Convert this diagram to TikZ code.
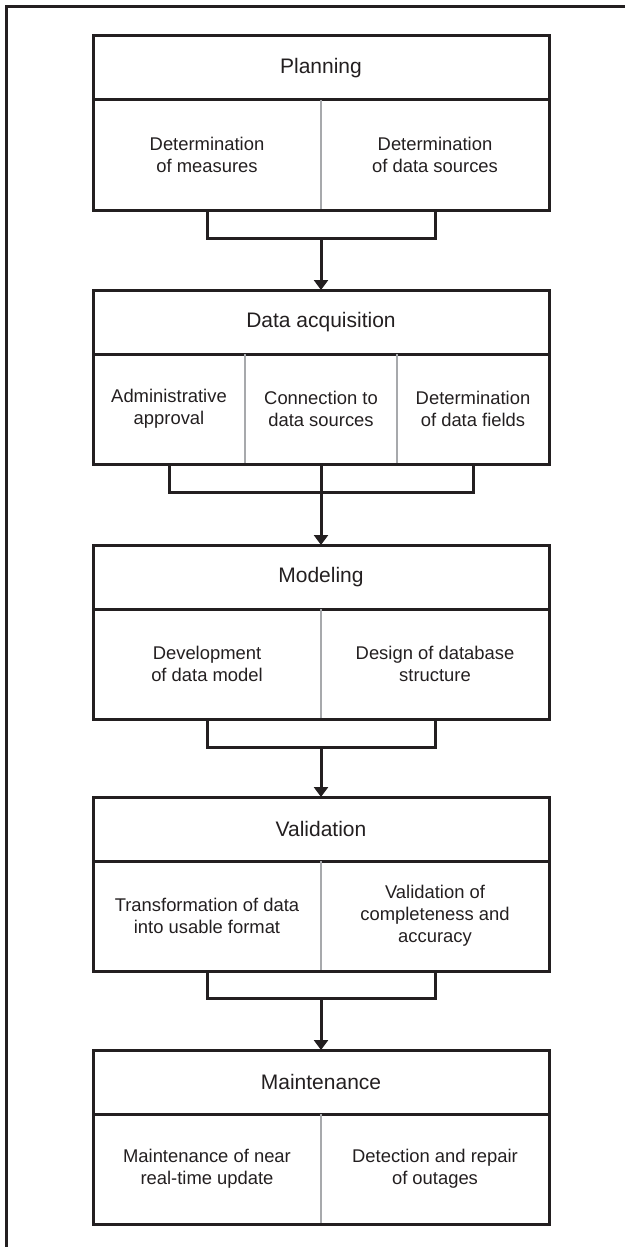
\documentclass[tikz,border=0pt]{standalone}
\usepackage{fontspec}
\setmainfont{Liberation Sans}
\usetikzlibrary{arrows.meta}

\definecolor{ink}{HTML}{231F20}
\definecolor{rulegray}{HTML}{A7A9AC}

\tikzstyle{head}=[draw=ink, line width=1.5pt, outer sep=0pt, minimum width=228pt, minimum height=32pt, anchor=north, text=ink, font=\fontsize{10.5}{12}\selectfont]
\tikzstyle{cell}=[outer sep=0pt, minimum height=55pt, anchor=north west, align=center, text=ink, font=\fontsize{9.2}{11}\selectfont]
\tikzstyle{box}=[draw=ink, line width=1.5pt]
\tikzstyle{divider}=[draw=rulegray, line width=1pt]
\tikzstyle{link}=[draw=ink, line width=1.5pt]
\tikzstyle{flow}=[link, -{Triangle[width=7pt,length=5pt]}]

\begin{document}
\begin{tikzpicture}[x=0.5pt, y=-0.5pt]

\useasboundingbox (0,0) rectangle (625,1247);
\draw[link] (6,1260) -- (6,7) -- (640,7);

% Planning
\node[head] (plan) at (321,36) {Planning};
\node[cell, minimum width=114pt] (plana) at (plan.south west) {Determination\\of measures};
\node[cell, minimum width=114pt] (planb) at (plana.north east) {Determination\\of data sources};
\draw[divider] (plana.north east) -- (plana.south east);
\draw[box] (plan.north west) rectangle (planb.south east);

% Data acquisition
\node[head] (acq) at (321,290) {Data acquisition};
\node[cell, minimum width=76pt] (acqa) at (acq.south west) {Administrative\\approval};
\node[cell, minimum width=76pt] (acqb) at (acqa.north east) {Connection to\\data sources};
\node[cell, minimum width=76pt] (acqc) at (acqb.north east) {Determination\\of data fields};
\draw[divider] (acqa.north east) -- (acqa.south east);
\draw[divider] (acqb.north east) -- (acqb.south east);
\draw[box] (acq.north west) rectangle (acqc.south east);

% Modeling
\node[head] (mod) at (321,545) {Modeling};
\node[cell, minimum width=114pt] (moda) at (mod.south west) {Development\\of data model};
\node[cell, minimum width=114pt] (modb) at (moda.north east) {Design of database\\structure};
\draw[divider] (moda.north east) -- (moda.south east);
\draw[box] (mod.north west) rectangle (modb.south east);

% Validation
\node[head] (val) at (321,797) {Validation};
\node[cell, minimum width=114pt] (vala) at (val.south west) {Transformation of data\\into usable format};
\node[cell, minimum width=114pt] (valb) at (vala.north east) {Validation of\\completeness and\\accuracy};
\draw[divider] (vala.north east) -- (vala.south east);
\draw[box] (val.north west) rectangle (valb.south east);

% Maintenance
\node[head] (mnt) at (321,1050) {Maintenance};
\node[cell, minimum width=114pt] (mnta) at (mnt.south west) {Maintenance of near\\real-time update};
\node[cell, minimum width=114pt] (mntb) at (mnta.north east) {Detection and repair\\of outages};
\draw[divider] (mnta.north east) -- (mnta.south east);
\draw[box] (mnt.north west) rectangle (mntb.south east);

% brackets and arrows
\draw[link] (plana.south) -- ++(0,28) coordinate (planl) -| (planb.south);
\draw[flow] (planl -| acq.north) -- (acq.north);

\draw[link] (acqa.south) -- ++(0,28) -| (acqc.south);
\draw[flow] (acqb.south) -- (mod.north);

\draw[link] (moda.south) -- ++(0,28) coordinate (modl) -| (modb.south);
\draw[flow] (modl -| val.north) -- (val.north);

\draw[link] (vala.south) -- ++(0,27) coordinate (vall) -| (valb.south);
\draw[flow] (vall -| mnt.north) -- (mnt.north);

\end{tikzpicture}
\end{document}
